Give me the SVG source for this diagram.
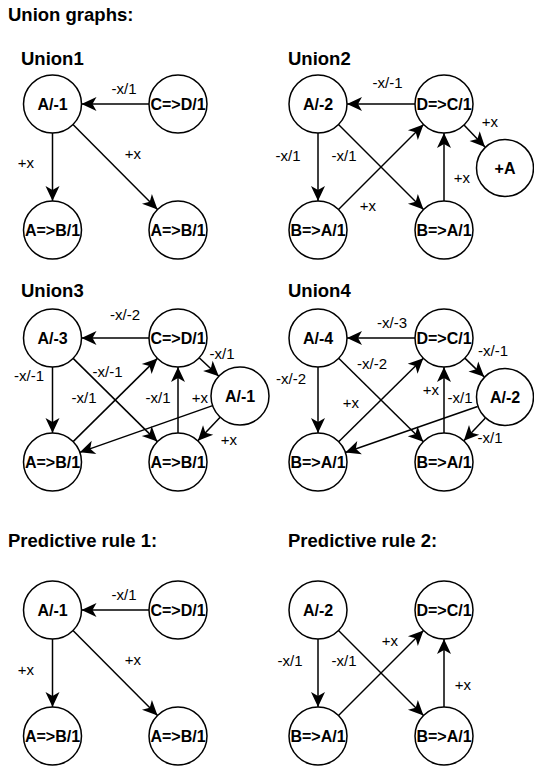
<svg xmlns="http://www.w3.org/2000/svg" width="534" height="767" viewBox="0 0 534 767">
<defs>
<style>
.n{fill:#fff;stroke:#000;stroke-width:1.5}
.nt{font-family:"Liberation Sans",Arial,sans-serif;font-weight:bold;font-size:16px;text-anchor:middle}
.e{fill:none;stroke:#000;stroke-width:1.5;marker-end:url(#arr)}
.l{font-family:"Liberation Sans",Arial,sans-serif;font-size:15px;text-anchor:middle}
.t{font-family:"Liberation Sans",Arial,sans-serif;font-weight:bold;font-size:18.5px}
</style>
<marker id="arr" markerUnits="userSpaceOnUse" viewBox="-16 -8 17 16" markerWidth="17" markerHeight="16" refX="0" refY="0" orient="auto">
<path d="M0,0 L-15,-7 L-11,0 L-15,7 Z" fill="#000"/>
</marker>
</defs>
<rect width="534" height="767" fill="#fff"/>

<g id="titles">
<text class="t" x="8" y="21">Union graphs:</text>
<text class="t" x="21" y="65">Union1</text>
<text class="t" x="288" y="65">Union2</text>
<text class="t" x="21" y="297">Union3</text>
<text class="t" x="288" y="297">Union4</text>
<text class="t" x="8" y="547">Predictive rule 1:</text>
<text class="t" x="288" y="547">Predictive rule 2:</text>
</g>

<g id="connectors">
<!-- Union1 -->
<line class="e" x1="149" y1="104" x2="81.5" y2="104"/>
<line class="e" x1="52.5" y1="133" x2="52.5" y2="201"/>
<line class="e" x1="72.97" y1="124.55" x2="157.53" y2="209.45"/>
<!-- Union2 -->
<line class="e" x1="415" y1="104" x2="347" y2="104"/>
<line class="e" x1="318" y1="133" x2="318" y2="201"/>
<line class="e" x1="338.5" y1="124.5" x2="423.5" y2="209.5"/>
<line class="e" x1="338.5" y1="209.5" x2="423.5" y2="124.5"/>
<line class="e" x1="444" y1="201" x2="444" y2="133"/>
<line class="e" x1="464" y1="125" x2="485" y2="147"/>
<!-- Union3 -->
<line class="e" x1="149" y1="338" x2="81.5" y2="338"/>
<line class="e" x1="52.5" y1="367" x2="52.5" y2="433"/>
<line class="e" x1="73.13" y1="358.38" x2="157.37" y2="441.62"/>
<line class="e" x1="73.13" y1="441.62" x2="157.37" y2="358.38"/>
<line class="e" x1="178" y1="433" x2="178" y2="367"/>
<line class="e" x1="199.18" y1="357.81" x2="218.82" y2="376.19"/>
<line class="e" x1="212.65" y1="405.63" x2="79.85" y2="452.37"/>
<line class="e" x1="220.14" y1="417.14" x2="197.86" y2="440.86"/>
<!-- Union4 -->
<line class="e" x1="415" y1="338" x2="347" y2="338"/>
<line class="e" x1="318" y1="367" x2="318" y2="433"/>
<line class="e" x1="338.67" y1="358.34" x2="423.33" y2="441.66"/>
<line class="e" x1="338.67" y1="441.66" x2="423.33" y2="358.34"/>
<line class="e" x1="444" y1="433" x2="444" y2="367"/>
<line class="e" x1="464.84" y1="358.16" x2="484.16" y2="376.84"/>
<line class="e" x1="477.61" y1="406.52" x2="345.39" y2="452.48"/>
<line class="e" x1="485.16" y1="418.15" x2="463.84" y2="440.85"/>
<!-- Predictive 1 -->
<line class="e" x1="149" y1="610" x2="81.5" y2="610"/>
<line class="e" x1="52.5" y1="639" x2="52.5" y2="707"/>
<line class="e" x1="72.97" y1="630.55" x2="157.53" y2="715.45"/>
<!-- Predictive 2 -->
<line class="e" x1="318" y1="639" x2="318" y2="707"/>
<line class="e" x1="338.5" y1="630.5" x2="423.5" y2="715.5"/>
<line class="e" x1="338.5" y1="715.5" x2="423.5" y2="630.5"/>
<line class="e" x1="444" y1="707" x2="444" y2="639"/>
</g>

<g id="edge-labels">
<text class="l" x="124" y="94">-x/1</text>
<text class="l" x="26" y="168">+x</text>
<text class="l" x="133" y="159">+x</text>

<text class="l" x="387.5" y="88">-x/-1</text>
<text class="l" x="288" y="161">-x/1</text>
<text class="l" x="344" y="161">-x/1</text>
<text class="l" x="368" y="211">+x</text>
<text class="l" x="462" y="183">+x</text>
<text class="l" x="490" y="127">+x</text>

<text class="l" x="125" y="320">-x/-2</text>
<text class="l" x="29" y="381">-x/-1</text>
<text class="l" x="107.5" y="377">-x/-1</text>
<text class="l" x="84" y="403">-x/1</text>
<text class="l" x="158" y="403">-x/1</text>
<text class="l" x="222" y="359">-x/1</text>
<text class="l" x="200" y="403">+x</text>
<text class="l" x="229" y="445">+x</text>

<text class="l" x="392" y="328">-x/-3</text>
<text class="l" x="291" y="384">-x/-2</text>
<text class="l" x="372" y="369">-x/-2</text>
<text class="l" x="351" y="408">+x</text>
<text class="l" x="431" y="395">+x</text>
<text class="l" x="460" y="403">-x/1</text>
<text class="l" x="493" y="356">-x/-1</text>
<text class="l" x="490" y="443">-x/1</text>

<text class="l" x="124" y="600">-x/1</text>
<text class="l" x="26" y="675">+x</text>
<text class="l" x="133" y="665">+x</text>

<text class="l" x="290" y="666">-x/1</text>
<text class="l" x="344" y="666">-x/1</text>
<text class="l" x="390" y="646">+x</text>
<text class="l" x="463" y="690">+x</text>
</g>

<!-- Union1 nodes -->
<g id="u1-a"><circle class="n" cx="52.5" cy="104" r="29"/><text class="nt" x="52.5" y="109.5">A/-1</text></g>
<g id="u1-cd"><circle class="n" cx="178" cy="104" r="29"/><text class="nt" x="178" y="109.5">C=&gt;D/1</text></g>
<g id="u1-ab1"><circle class="n" cx="52.5" cy="230" r="29"/><text class="nt" x="52.5" y="235.5">A=&gt;B/1</text></g>
<g id="u1-ab2"><circle class="n" cx="178" cy="230" r="29"/><text class="nt" x="178" y="235.5">A=&gt;B/1</text></g>

<!-- Union2 nodes -->
<g id="u2-a"><circle class="n" cx="318" cy="104" r="29"/><text class="nt" x="318" y="109.5">A/-2</text></g>
<g id="u2-dc"><circle class="n" cx="444" cy="104" r="29"/><text class="nt" x="444" y="109.5">D=&gt;C/1</text></g>
<g id="u2-ba1"><circle class="n" cx="318" cy="230" r="29"/><text class="nt" x="318" y="235.5">B=&gt;A/1</text></g>
<g id="u2-ba2"><circle class="n" cx="444" cy="230" r="29"/><text class="nt" x="444" y="235.5">B=&gt;A/1</text></g>
<g id="u2-plusA"><circle class="n" cx="505" cy="168" r="28.5"/><text class="nt" x="505" y="173.5">+A</text></g>

<!-- Union3 nodes -->
<g id="u3-a"><circle class="n" cx="52.5" cy="338" r="29"/><text class="nt" x="52.5" y="343.5">A/-3</text></g>
<g id="u3-cd"><circle class="n" cx="178" cy="338" r="29"/><text class="nt" x="178" y="343.5">C=&gt;D/1</text></g>
<g id="u3-a1"><circle class="n" cx="240" cy="396" r="29"/><text class="nt" x="240" y="401.5">A/-1</text></g>
<g id="u3-ab1"><circle class="n" cx="52.5" cy="462" r="29"/><text class="nt" x="52.5" y="467.5">A=&gt;B/1</text></g>
<g id="u3-ab2"><circle class="n" cx="178" cy="462" r="29"/><text class="nt" x="178" y="467.5">A=&gt;B/1</text></g>

<!-- Union4 nodes -->
<g id="u4-a"><circle class="n" cx="318" cy="338" r="29"/><text class="nt" x="318" y="343.5">A/-4</text></g>
<g id="u4-dc"><circle class="n" cx="444" cy="338" r="29"/><text class="nt" x="444" y="343.5">D=&gt;C/1</text></g>
<g id="u4-a2"><circle class="n" cx="505" cy="397" r="28.5"/><text class="nt" x="505" y="402.5">A/-2</text></g>
<g id="u4-ba1"><circle class="n" cx="318" cy="462" r="29"/><text class="nt" x="318" y="467.5">B=&gt;A/1</text></g>
<g id="u4-ba2"><circle class="n" cx="444" cy="462" r="29"/><text class="nt" x="444" y="467.5">B=&gt;A/1</text></g>

<!-- Predictive rule 1 nodes -->
<g id="p1-a"><circle class="n" cx="52.5" cy="610" r="29"/><text class="nt" x="52.5" y="615.5">A/-1</text></g>
<g id="p1-cd"><circle class="n" cx="178" cy="610" r="29"/><text class="nt" x="178" y="615.5">C=&gt;D/1</text></g>
<g id="p1-ab1"><circle class="n" cx="52.5" cy="736" r="29"/><text class="nt" x="52.5" y="741.5">A=&gt;B/1</text></g>
<g id="p1-ab2"><circle class="n" cx="178" cy="736" r="29"/><text class="nt" x="178" y="741.5">A=&gt;B/1</text></g>

<!-- Predictive rule 2 nodes -->
<g id="p2-a"><circle class="n" cx="318" cy="610" r="29"/><text class="nt" x="318" y="615.5">A/-2</text></g>
<g id="p2-dc"><circle class="n" cx="444" cy="610" r="29"/><text class="nt" x="444" y="615.5">D=&gt;C/1</text></g>
<g id="p2-ba1"><circle class="n" cx="318" cy="736" r="29"/><text class="nt" x="318" y="741.5">B=&gt;A/1</text></g>
<g id="p2-ba2"><circle class="n" cx="444" cy="736" r="29"/><text class="nt" x="444" y="741.5">B=&gt;A/1</text></g>
</svg>
